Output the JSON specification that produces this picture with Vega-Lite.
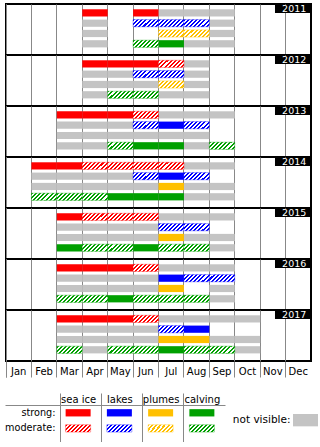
{
"$schema": "https://vega.github.io/schema/vega-lite/v6.json",
"padding": {"left": 4, "top": 2, "right": 0, "bottom": 0},
"background": "white",
"config": {
  "font": "DejaVu Sans",
  "view": {"stroke": "black", "strokeWidth": 2},
  "axis": {"labelColor": "black", "labelFontSize": 10},
  "axisX": {"bandPosition": 0, "tickExtra": true, "grid": true, "gridColor": "#888888", "gridWidth": 1, "tickColor": "#888888", "tickSize": 16, "domain": false, "labelAngle": 0, "labelPadding": -11, "zindex": 1}
},
"spacing": 14,
"vconcat": [
{
  "data": {"values": [
    {"year":"2011","cat":"sea ice","mon":"Apr","st":"s"},{"year":"2011","cat":"sea ice","mon":"Jun","st":"s"},{"year":"2011","cat":"sea ice","mon":"Jul","st":"n"},{"year":"2011","cat":"sea ice","mon":"Aug","st":"n"},{"year":"2011","cat":"sea ice","mon":"Sep","st":"n"},
    {"year":"2011","cat":"lakes","mon":"Apr","st":"n"},{"year":"2011","cat":"lakes","mon":"Jun","st":"m"},{"year":"2011","cat":"lakes","mon":"Jul","st":"m"},{"year":"2011","cat":"lakes","mon":"Aug","st":"m"},{"year":"2011","cat":"lakes","mon":"Sep","st":"n"},
    {"year":"2011","cat":"plumes","mon":"Apr","st":"n"},{"year":"2011","cat":"plumes","mon":"Jul","st":"m"},{"year":"2011","cat":"plumes","mon":"Aug","st":"m"},{"year":"2011","cat":"plumes","mon":"Sep","st":"n"},
    {"year":"2011","cat":"calving","mon":"Apr","st":"n"},{"year":"2011","cat":"calving","mon":"Jun","st":"m"},{"year":"2011","cat":"calving","mon":"Jul","st":"s"},{"year":"2011","cat":"calving","mon":"Aug","st":"n"},{"year":"2011","cat":"calving","mon":"Sep","st":"n"},

    {"year":"2012","cat":"sea ice","mon":"Apr","st":"s"},{"year":"2012","cat":"sea ice","mon":"May","st":"s"},{"year":"2012","cat":"sea ice","mon":"Jun","st":"s"},{"year":"2012","cat":"sea ice","mon":"Jul","st":"m"},{"year":"2012","cat":"sea ice","mon":"Aug","st":"n"},
    {"year":"2012","cat":"lakes","mon":"Apr","st":"n"},{"year":"2012","cat":"lakes","mon":"May","st":"n"},{"year":"2012","cat":"lakes","mon":"Jun","st":"m"},{"year":"2012","cat":"lakes","mon":"Jul","st":"m"},{"year":"2012","cat":"lakes","mon":"Aug","st":"n"},
    {"year":"2012","cat":"plumes","mon":"Apr","st":"n"},{"year":"2012","cat":"plumes","mon":"May","st":"n"},{"year":"2012","cat":"plumes","mon":"Jun","st":"n"},{"year":"2012","cat":"plumes","mon":"Jul","st":"m"},{"year":"2012","cat":"plumes","mon":"Aug","st":"n"},
    {"year":"2012","cat":"calving","mon":"Apr","st":"n"},{"year":"2012","cat":"calving","mon":"May","st":"m"},{"year":"2012","cat":"calving","mon":"Jun","st":"m"},{"year":"2012","cat":"calving","mon":"Jul","st":"n"},{"year":"2012","cat":"calving","mon":"Aug","st":"n"},

    {"year":"2013","cat":"sea ice","mon":"Mar","st":"s"},{"year":"2013","cat":"sea ice","mon":"Apr","st":"s"},{"year":"2013","cat":"sea ice","mon":"May","st":"s"},{"year":"2013","cat":"sea ice","mon":"Jun","st":"m"},{"year":"2013","cat":"sea ice","mon":"Jul","st":"n"},{"year":"2013","cat":"sea ice","mon":"Aug","st":"n"},{"year":"2013","cat":"sea ice","mon":"Sep","st":"n"},
    {"year":"2013","cat":"lakes","mon":"Mar","st":"n"},{"year":"2013","cat":"lakes","mon":"Apr","st":"n"},{"year":"2013","cat":"lakes","mon":"May","st":"n"},{"year":"2013","cat":"lakes","mon":"Jun","st":"m"},{"year":"2013","cat":"lakes","mon":"Jul","st":"s"},{"year":"2013","cat":"lakes","mon":"Aug","st":"m"},
    {"year":"2013","cat":"plumes","mon":"Mar","st":"n"},{"year":"2013","cat":"plumes","mon":"Apr","st":"n"},{"year":"2013","cat":"plumes","mon":"May","st":"n"},{"year":"2013","cat":"plumes","mon":"Jun","st":"n"},{"year":"2013","cat":"plumes","mon":"Jul","st":"n"},{"year":"2013","cat":"plumes","mon":"Aug","st":"n"},
    {"year":"2013","cat":"calving","mon":"Mar","st":"n"},{"year":"2013","cat":"calving","mon":"Apr","st":"n"},{"year":"2013","cat":"calving","mon":"May","st":"m"},{"year":"2013","cat":"calving","mon":"Jun","st":"s"},{"year":"2013","cat":"calving","mon":"Jul","st":"s"},{"year":"2013","cat":"calving","mon":"Aug","st":"n"},{"year":"2013","cat":"calving","mon":"Sep","st":"m"},

    {"year":"2014","cat":"sea ice","mon":"Feb","st":"s"},{"year":"2014","cat":"sea ice","mon":"Mar","st":"s"},{"year":"2014","cat":"sea ice","mon":"Apr","st":"m"},{"year":"2014","cat":"sea ice","mon":"May","st":"m"},{"year":"2014","cat":"sea ice","mon":"Jun","st":"m"},{"year":"2014","cat":"sea ice","mon":"Jul","st":"m"},{"year":"2014","cat":"sea ice","mon":"Aug","st":"n"},{"year":"2014","cat":"sea ice","mon":"Sep","st":"n"},
    {"year":"2014","cat":"lakes","mon":"Feb","st":"n"},{"year":"2014","cat":"lakes","mon":"Mar","st":"n"},{"year":"2014","cat":"lakes","mon":"Apr","st":"n"},{"year":"2014","cat":"lakes","mon":"May","st":"n"},{"year":"2014","cat":"lakes","mon":"Jun","st":"m"},{"year":"2014","cat":"lakes","mon":"Jul","st":"s"},{"year":"2014","cat":"lakes","mon":"Aug","st":"m"},
    {"year":"2014","cat":"plumes","mon":"Feb","st":"n"},{"year":"2014","cat":"plumes","mon":"Mar","st":"n"},{"year":"2014","cat":"plumes","mon":"Apr","st":"n"},{"year":"2014","cat":"plumes","mon":"May","st":"n"},{"year":"2014","cat":"plumes","mon":"Jun","st":"n"},{"year":"2014","cat":"plumes","mon":"Jul","st":"s"},{"year":"2014","cat":"plumes","mon":"Aug","st":"n"},{"year":"2014","cat":"plumes","mon":"Sep","st":"n"},
    {"year":"2014","cat":"calving","mon":"Feb","st":"m"},{"year":"2014","cat":"calving","mon":"Mar","st":"m"},{"year":"2014","cat":"calving","mon":"Apr","st":"m"},{"year":"2014","cat":"calving","mon":"May","st":"s"},{"year":"2014","cat":"calving","mon":"Jun","st":"s"},{"year":"2014","cat":"calving","mon":"Jul","st":"s"},{"year":"2014","cat":"calving","mon":"Aug","st":"n"},{"year":"2014","cat":"calving","mon":"Sep","st":"n"},

    {"year":"2015","cat":"sea ice","mon":"Mar","st":"s"},{"year":"2015","cat":"sea ice","mon":"Apr","st":"m"},{"year":"2015","cat":"sea ice","mon":"May","st":"m"},{"year":"2015","cat":"sea ice","mon":"Jun","st":"m"},{"year":"2015","cat":"sea ice","mon":"Jul","st":"n"},{"year":"2015","cat":"sea ice","mon":"Aug","st":"n"},{"year":"2015","cat":"sea ice","mon":"Sep","st":"n"},
    {"year":"2015","cat":"lakes","mon":"Mar","st":"n"},{"year":"2015","cat":"lakes","mon":"Apr","st":"n"},{"year":"2015","cat":"lakes","mon":"May","st":"n"},{"year":"2015","cat":"lakes","mon":"Jun","st":"n"},{"year":"2015","cat":"lakes","mon":"Jul","st":"m"},{"year":"2015","cat":"lakes","mon":"Aug","st":"m"},
    {"year":"2015","cat":"plumes","mon":"Mar","st":"n"},{"year":"2015","cat":"plumes","mon":"Apr","st":"n"},{"year":"2015","cat":"plumes","mon":"May","st":"n"},{"year":"2015","cat":"plumes","mon":"Jun","st":"n"},{"year":"2015","cat":"plumes","mon":"Jul","st":"s"},{"year":"2015","cat":"plumes","mon":"Aug","st":"n"},{"year":"2015","cat":"plumes","mon":"Sep","st":"n"},
    {"year":"2015","cat":"calving","mon":"Mar","st":"s"},{"year":"2015","cat":"calving","mon":"Apr","st":"m"},{"year":"2015","cat":"calving","mon":"May","st":"m"},{"year":"2015","cat":"calving","mon":"Jun","st":"s"},{"year":"2015","cat":"calving","mon":"Jul","st":"m"},{"year":"2015","cat":"calving","mon":"Aug","st":"m"},{"year":"2015","cat":"calving","mon":"Sep","st":"n"},

    {"year":"2016","cat":"sea ice","mon":"Mar","st":"s"},{"year":"2016","cat":"sea ice","mon":"Apr","st":"s"},{"year":"2016","cat":"sea ice","mon":"May","st":"s"},{"year":"2016","cat":"sea ice","mon":"Jun","st":"m"},{"year":"2016","cat":"sea ice","mon":"Jul","st":"n"},{"year":"2016","cat":"sea ice","mon":"Aug","st":"n"},{"year":"2016","cat":"sea ice","mon":"Sep","st":"n"},
    {"year":"2016","cat":"lakes","mon":"Mar","st":"n"},{"year":"2016","cat":"lakes","mon":"Apr","st":"n"},{"year":"2016","cat":"lakes","mon":"May","st":"n"},{"year":"2016","cat":"lakes","mon":"Jun","st":"n"},{"year":"2016","cat":"lakes","mon":"Jul","st":"s"},{"year":"2016","cat":"lakes","mon":"Aug","st":"m"},{"year":"2016","cat":"lakes","mon":"Sep","st":"m"},
    {"year":"2016","cat":"plumes","mon":"Mar","st":"n"},{"year":"2016","cat":"plumes","mon":"Apr","st":"n"},{"year":"2016","cat":"plumes","mon":"May","st":"n"},{"year":"2016","cat":"plumes","mon":"Jun","st":"n"},{"year":"2016","cat":"plumes","mon":"Jul","st":"s"},{"year":"2016","cat":"plumes","mon":"Sep","st":"n"},
    {"year":"2016","cat":"calving","mon":"Mar","st":"m"},{"year":"2016","cat":"calving","mon":"Apr","st":"m"},{"year":"2016","cat":"calving","mon":"May","st":"s"},{"year":"2016","cat":"calving","mon":"Jun","st":"m"},{"year":"2016","cat":"calving","mon":"Jul","st":"m"},{"year":"2016","cat":"calving","mon":"Aug","st":"m"},{"year":"2016","cat":"calving","mon":"Sep","st":"n"},

    {"year":"2017","cat":"sea ice","mon":"Mar","st":"s"},{"year":"2017","cat":"sea ice","mon":"Apr","st":"s"},{"year":"2017","cat":"sea ice","mon":"May","st":"s"},{"year":"2017","cat":"sea ice","mon":"Jun","st":"m"},{"year":"2017","cat":"sea ice","mon":"Jul","st":"n"},{"year":"2017","cat":"sea ice","mon":"Aug","st":"n"},{"year":"2017","cat":"sea ice","mon":"Sep","st":"n"},{"year":"2017","cat":"sea ice","mon":"Oct","st":"n"},
    {"year":"2017","cat":"lakes","mon":"Mar","st":"n"},{"year":"2017","cat":"lakes","mon":"Apr","st":"n"},{"year":"2017","cat":"lakes","mon":"May","st":"n"},{"year":"2017","cat":"lakes","mon":"Jun","st":"n"},{"year":"2017","cat":"lakes","mon":"Jul","st":"m"},{"year":"2017","cat":"lakes","mon":"Aug","st":"s"},
    {"year":"2017","cat":"plumes","mon":"Mar","st":"n"},{"year":"2017","cat":"plumes","mon":"Apr","st":"n"},{"year":"2017","cat":"plumes","mon":"May","st":"n"},{"year":"2017","cat":"plumes","mon":"Jun","st":"n"},{"year":"2017","cat":"plumes","mon":"Jul","st":"s"},{"year":"2017","cat":"plumes","mon":"Aug","st":"s"},{"year":"2017","cat":"plumes","mon":"Sep","st":"n"},{"year":"2017","cat":"plumes","mon":"Oct","st":"n"},
    {"year":"2017","cat":"calving","mon":"Mar","st":"m"},{"year":"2017","cat":"calving","mon":"Apr","st":"n"},{"year":"2017","cat":"calving","mon":"May","st":"m"},{"year":"2017","cat":"calving","mon":"Jun","st":"m"},{"year":"2017","cat":"calving","mon":"Jul","st":"s"},{"year":"2017","cat":"calving","mon":"Aug","st":"m"},{"year":"2017","cat":"calving","mon":"Sep","st":"m"},{"year":"2017","cat":"calving","mon":"Oct","st":"n"}
  ]},
  "facet": {"row": {"field": "year", "type": "ordinal", "header": {"title": null, "labels": false}}},
  "spacing": {"row": 0},
  "bounds": "flush",
  "spec": {
    "width": 305,
    "height": 51,
    "encoding": {
      "x": {"field": "mon", "type": "ordinal", "title": null, "scale": {"domain": ["Jan","Feb","Mar","Apr","May","Jun","Jul","Aug","Sep","Oct","Nov","Dec"], "paddingInner": 0, "paddingOuter": 0}},
      "y": {"field": "cat", "type": "nominal", "axis": null, "scale": {"domain": ["sea ice","lakes","plumes","calving"], "paddingInner": 0.3, "paddingOuter": 0.626, "align": 0.41}}
    },
    "layer": [
      {"transform": [{"filter": "datum.st === 'n'"}], "mark": {"type": "rect", "fill": "#c4c4c4"}},
      {"transform": [{"filter": "datum.st === 's'"}], "mark": {"type": "rect"},
       "encoding": {"color": {"field": "cat", "type": "nominal", "legend": null, "scale": {"domain": ["sea ice","lakes","plumes","calving"], "range": ["#ff0000","#0000ff","#ffc000","#00a000"]}}}},
      {"transform": [{"filter": "datum.st === 'm' && datum.cat === 'sea ice'"}],
       "mark": {"type": "rect", "stroke": "#ff0000", "strokeOpacity": 0.35, "strokeWidth": 1, "fill": {"gradient": "linear", "x1": 0, "y1": 0, "x2": 1.19, "y2": 0.34, "stops": [
        {"offset":0,"color":"#ff0000"},{"offset":0.0625,"color":"#ff0000"},{"offset":0.0625,"color":"white"},{"offset":0.125,"color":"white"},
        {"offset":0.125,"color":"#ff0000"},{"offset":0.1875,"color":"#ff0000"},{"offset":0.1875,"color":"white"},{"offset":0.25,"color":"white"},
        {"offset":0.25,"color":"#ff0000"},{"offset":0.3125,"color":"#ff0000"},{"offset":0.3125,"color":"white"},{"offset":0.375,"color":"white"},
        {"offset":0.375,"color":"#ff0000"},{"offset":0.4375,"color":"#ff0000"},{"offset":0.4375,"color":"white"},{"offset":0.5,"color":"white"},
        {"offset":0.5,"color":"#ff0000"},{"offset":0.5625,"color":"#ff0000"},{"offset":0.5625,"color":"white"},{"offset":0.625,"color":"white"},
        {"offset":0.625,"color":"#ff0000"},{"offset":0.6875,"color":"#ff0000"},{"offset":0.6875,"color":"white"},{"offset":0.75,"color":"white"},
        {"offset":0.75,"color":"#ff0000"},{"offset":0.8125,"color":"#ff0000"},{"offset":0.8125,"color":"white"},{"offset":0.875,"color":"white"},
        {"offset":0.875,"color":"#ff0000"},{"offset":0.9375,"color":"#ff0000"},{"offset":0.9375,"color":"white"},{"offset":1,"color":"white"}]}}},
      {"transform": [{"filter": "datum.st === 'm' && datum.cat === 'lakes'"}],
       "mark": {"type": "rect", "stroke": "#0000ff", "strokeOpacity": 0.35, "strokeWidth": 1, "fill": {"gradient": "linear", "x1": 0, "y1": 0, "x2": 1.19, "y2": 0.34, "stops": [
        {"offset":0,"color":"#0000ff"},{"offset":0.0625,"color":"#0000ff"},{"offset":0.0625,"color":"white"},{"offset":0.125,"color":"white"},
        {"offset":0.125,"color":"#0000ff"},{"offset":0.1875,"color":"#0000ff"},{"offset":0.1875,"color":"white"},{"offset":0.25,"color":"white"},
        {"offset":0.25,"color":"#0000ff"},{"offset":0.3125,"color":"#0000ff"},{"offset":0.3125,"color":"white"},{"offset":0.375,"color":"white"},
        {"offset":0.375,"color":"#0000ff"},{"offset":0.4375,"color":"#0000ff"},{"offset":0.4375,"color":"white"},{"offset":0.5,"color":"white"},
        {"offset":0.5,"color":"#0000ff"},{"offset":0.5625,"color":"#0000ff"},{"offset":0.5625,"color":"white"},{"offset":0.625,"color":"white"},
        {"offset":0.625,"color":"#0000ff"},{"offset":0.6875,"color":"#0000ff"},{"offset":0.6875,"color":"white"},{"offset":0.75,"color":"white"},
        {"offset":0.75,"color":"#0000ff"},{"offset":0.8125,"color":"#0000ff"},{"offset":0.8125,"color":"white"},{"offset":0.875,"color":"white"},
        {"offset":0.875,"color":"#0000ff"},{"offset":0.9375,"color":"#0000ff"},{"offset":0.9375,"color":"white"},{"offset":1,"color":"white"}]}}},
      {"transform": [{"filter": "datum.st === 'm' && datum.cat === 'plumes'"}],
       "mark": {"type": "rect", "stroke": "#ffc000", "strokeOpacity": 0.35, "strokeWidth": 1, "fill": {"gradient": "linear", "x1": 0, "y1": 0, "x2": 1.19, "y2": 0.34, "stops": [
        {"offset":0,"color":"#ffc000"},{"offset":0.0625,"color":"#ffc000"},{"offset":0.0625,"color":"white"},{"offset":0.125,"color":"white"},
        {"offset":0.125,"color":"#ffc000"},{"offset":0.1875,"color":"#ffc000"},{"offset":0.1875,"color":"white"},{"offset":0.25,"color":"white"},
        {"offset":0.25,"color":"#ffc000"},{"offset":0.3125,"color":"#ffc000"},{"offset":0.3125,"color":"white"},{"offset":0.375,"color":"white"},
        {"offset":0.375,"color":"#ffc000"},{"offset":0.4375,"color":"#ffc000"},{"offset":0.4375,"color":"white"},{"offset":0.5,"color":"white"},
        {"offset":0.5,"color":"#ffc000"},{"offset":0.5625,"color":"#ffc000"},{"offset":0.5625,"color":"white"},{"offset":0.625,"color":"white"},
        {"offset":0.625,"color":"#ffc000"},{"offset":0.6875,"color":"#ffc000"},{"offset":0.6875,"color":"white"},{"offset":0.75,"color":"white"},
        {"offset":0.75,"color":"#ffc000"},{"offset":0.8125,"color":"#ffc000"},{"offset":0.8125,"color":"white"},{"offset":0.875,"color":"white"},
        {"offset":0.875,"color":"#ffc000"},{"offset":0.9375,"color":"#ffc000"},{"offset":0.9375,"color":"white"},{"offset":1,"color":"white"}]}}},
      {"transform": [{"filter": "datum.st === 'm' && datum.cat === 'calving'"}],
       "mark": {"type": "rect", "stroke": "#00a000", "strokeOpacity": 0.35, "strokeWidth": 1, "fill": {"gradient": "linear", "x1": 0, "y1": 0, "x2": 1.19, "y2": 0.34, "stops": [
        {"offset":0,"color":"#00a000"},{"offset":0.0625,"color":"#00a000"},{"offset":0.0625,"color":"white"},{"offset":0.125,"color":"white"},
        {"offset":0.125,"color":"#00a000"},{"offset":0.1875,"color":"#00a000"},{"offset":0.1875,"color":"white"},{"offset":0.25,"color":"white"},
        {"offset":0.25,"color":"#00a000"},{"offset":0.3125,"color":"#00a000"},{"offset":0.3125,"color":"white"},{"offset":0.375,"color":"white"},
        {"offset":0.375,"color":"#00a000"},{"offset":0.4375,"color":"#00a000"},{"offset":0.4375,"color":"white"},{"offset":0.5,"color":"white"},
        {"offset":0.5,"color":"#00a000"},{"offset":0.5625,"color":"#00a000"},{"offset":0.5625,"color":"white"},{"offset":0.625,"color":"white"},
        {"offset":0.625,"color":"#00a000"},{"offset":0.6875,"color":"#00a000"},{"offset":0.6875,"color":"white"},{"offset":0.75,"color":"white"},
        {"offset":0.75,"color":"#00a000"},{"offset":0.8125,"color":"#00a000"},{"offset":0.8125,"color":"white"},{"offset":0.875,"color":"white"},
        {"offset":0.875,"color":"#00a000"},{"offset":0.9375,"color":"#00a000"},{"offset":0.9375,"color":"white"},{"offset":1,"color":"white"}]}}},
      {"transform": [{"aggregate": [{"op": "count", "as": "n"}], "groupby": ["year"]}],
       "mark": {"type": "rect", "fill": "black", "width": 36, "height": 8, "xOffset": -5.3, "yOffset": -3.9},
       "encoding": {"x": {"datum": "Dec", "type": "ordinal", "title": null}, "y": {"datum": "sea ice", "type": "nominal", "axis": null}}},
      {"transform": [{"aggregate": [{"op": "count", "as": "n"}], "groupby": ["year"]}],
       "mark": {"type": "text", "color": "white", "fontSize": 9.5, "xOffset": -4.1, "yOffset": -3.9, "baseline": "middle", "align": "center"},
       "encoding": {"x": {"datum": "Dec", "type": "ordinal", "title": null}, "y": {"datum": "sea ice", "type": "nominal", "axis": null}, "text": {"field": "year", "type": "nominal"}}}
    ]
  }
},
{
  "spacing": 0,
  "bounds": "flush",
  "hconcat": [
    {
      "width": 54,
      "height": 37,
      "view": {"stroke": null},
      "data": {"values": [{"k": "spacer"}]},
      "mark": {"type": "text", "text": ""}
    },
    {
      "width": 165,
      "height": 37,
      "view": {"stroke": null},
      "data": {"values": [
        {"cat":"sea ice","lev":"strong"},{"cat":"lakes","lev":"strong"},{"cat":"plumes","lev":"strong"},{"cat":"calving","lev":"strong"},
        {"cat":"sea ice","lev":"moderate"},{"cat":"lakes","lev":"moderate"},{"cat":"plumes","lev":"moderate"},{"cat":"calving","lev":"moderate"}
      ]},
      "encoding": {
        "x": {"field": "cat", "type": "nominal", "title": null, "scale": {"domain": ["sea ice","lakes","plumes","calving"], "paddingInner": 0, "paddingOuter": 0},
              "axis": {"orient": "top", "tickExtra": false, "tickSize": 12, "labelPadding": -9.5, "labelBaseline": "alphabetic", "domain": true, "domainColor": "#888888", "labelOffset": -2}},
        "y": {"field": "lev", "type": "nominal", "title": null, "scale": {"domain": ["strong","moderate"], "paddingInner": 0, "paddingOuter": 0.186, "align": 0},
              "axis": {"bandPosition": 0, "domain": false, "grid": false, "tickSize": 55, "tickColor": "#888888",
                       "tickOpacity": {"condition": {"test": "datum.value === 'strong'", "value": 1}, "value": 0},
                       "labelPadding": -50, "labelFontSize": 9.7, "labelExpr": "datum.label + ':'"}}
      },
      "layer": [
        {"transform": [{"filter": "datum.lev === 'strong'"}],
         "mark": {"type": "rect", "width": 25, "height": 7.3, "xOffset": -2.5},
         "encoding": {"color": {"field": "cat", "type": "nominal", "legend": null, "scale": {"domain": ["sea ice","lakes","plumes","calving"], "range": ["#ff0000","#0000ff","#ffc000","#00a000"]}}}},
        {"transform": [{"filter": "datum.lev === 'moderate' && datum.cat === 'sea ice'"}],
         "mark": {"type": "rect", "width": 25, "height": 7.3, "xOffset": -2.5, "stroke": "#ff0000", "strokeOpacity": 0.35, "strokeWidth": 1, "fill": {"gradient": "linear", "x1": 0, "y1": 0, "x2": 1.19, "y2": 0.34, "stops": [
          {"offset":0,"color":"#ff0000"},{"offset":0.0625,"color":"#ff0000"},{"offset":0.0625,"color":"white"},{"offset":0.125,"color":"white"},
          {"offset":0.125,"color":"#ff0000"},{"offset":0.1875,"color":"#ff0000"},{"offset":0.1875,"color":"white"},{"offset":0.25,"color":"white"},
          {"offset":0.25,"color":"#ff0000"},{"offset":0.3125,"color":"#ff0000"},{"offset":0.3125,"color":"white"},{"offset":0.375,"color":"white"},
          {"offset":0.375,"color":"#ff0000"},{"offset":0.4375,"color":"#ff0000"},{"offset":0.4375,"color":"white"},{"offset":0.5,"color":"white"},
          {"offset":0.5,"color":"#ff0000"},{"offset":0.5625,"color":"#ff0000"},{"offset":0.5625,"color":"white"},{"offset":0.625,"color":"white"},
          {"offset":0.625,"color":"#ff0000"},{"offset":0.6875,"color":"#ff0000"},{"offset":0.6875,"color":"white"},{"offset":0.75,"color":"white"},
          {"offset":0.75,"color":"#ff0000"},{"offset":0.8125,"color":"#ff0000"},{"offset":0.8125,"color":"white"},{"offset":0.875,"color":"white"},
          {"offset":0.875,"color":"#ff0000"},{"offset":0.9375,"color":"#ff0000"},{"offset":0.9375,"color":"white"},{"offset":1,"color":"white"}]}}},
        {"transform": [{"filter": "datum.lev === 'moderate' && datum.cat === 'lakes'"}],
         "mark": {"type": "rect", "width": 25, "height": 7.3, "xOffset": -2.5, "stroke": "#0000ff", "strokeOpacity": 0.35, "strokeWidth": 1, "fill": {"gradient": "linear", "x1": 0, "y1": 0, "x2": 1.19, "y2": 0.34, "stops": [
          {"offset":0,"color":"#0000ff"},{"offset":0.0625,"color":"#0000ff"},{"offset":0.0625,"color":"white"},{"offset":0.125,"color":"white"},
          {"offset":0.125,"color":"#0000ff"},{"offset":0.1875,"color":"#0000ff"},{"offset":0.1875,"color":"white"},{"offset":0.25,"color":"white"},
          {"offset":0.25,"color":"#0000ff"},{"offset":0.3125,"color":"#0000ff"},{"offset":0.3125,"color":"white"},{"offset":0.375,"color":"white"},
          {"offset":0.375,"color":"#0000ff"},{"offset":0.4375,"color":"#0000ff"},{"offset":0.4375,"color":"white"},{"offset":0.5,"color":"white"},
          {"offset":0.5,"color":"#0000ff"},{"offset":0.5625,"color":"#0000ff"},{"offset":0.5625,"color":"white"},{"offset":0.625,"color":"white"},
          {"offset":0.625,"color":"#0000ff"},{"offset":0.6875,"color":"#0000ff"},{"offset":0.6875,"color":"white"},{"offset":0.75,"color":"white"},
          {"offset":0.75,"color":"#0000ff"},{"offset":0.8125,"color":"#0000ff"},{"offset":0.8125,"color":"white"},{"offset":0.875,"color":"white"},
          {"offset":0.875,"color":"#0000ff"},{"offset":0.9375,"color":"#0000ff"},{"offset":0.9375,"color":"white"},{"offset":1,"color":"white"}]}}},
        {"transform": [{"filter": "datum.lev === 'moderate' && datum.cat === 'plumes'"}],
         "mark": {"type": "rect", "width": 25, "height": 7.3, "xOffset": -2.5, "stroke": "#ffc000", "strokeOpacity": 0.35, "strokeWidth": 1, "fill": {"gradient": "linear", "x1": 0, "y1": 0, "x2": 1.19, "y2": 0.34, "stops": [
          {"offset":0,"color":"#ffc000"},{"offset":0.0625,"color":"#ffc000"},{"offset":0.0625,"color":"white"},{"offset":0.125,"color":"white"},
          {"offset":0.125,"color":"#ffc000"},{"offset":0.1875,"color":"#ffc000"},{"offset":0.1875,"color":"white"},{"offset":0.25,"color":"white"},
          {"offset":0.25,"color":"#ffc000"},{"offset":0.3125,"color":"#ffc000"},{"offset":0.3125,"color":"white"},{"offset":0.375,"color":"white"},
          {"offset":0.375,"color":"#ffc000"},{"offset":0.4375,"color":"#ffc000"},{"offset":0.4375,"color":"white"},{"offset":0.5,"color":"white"},
          {"offset":0.5,"color":"#ffc000"},{"offset":0.5625,"color":"#ffc000"},{"offset":0.5625,"color":"white"},{"offset":0.625,"color":"white"},
          {"offset":0.625,"color":"#ffc000"},{"offset":0.6875,"color":"#ffc000"},{"offset":0.6875,"color":"white"},{"offset":0.75,"color":"white"},
          {"offset":0.75,"color":"#ffc000"},{"offset":0.8125,"color":"#ffc000"},{"offset":0.8125,"color":"white"},{"offset":0.875,"color":"white"},
          {"offset":0.875,"color":"#ffc000"},{"offset":0.9375,"color":"#ffc000"},{"offset":0.9375,"color":"white"},{"offset":1,"color":"white"}]}}},
        {"transform": [{"filter": "datum.lev === 'moderate' && datum.cat === 'calving'"}],
         "mark": {"type": "rect", "width": 25, "height": 7.3, "xOffset": -2.5, "stroke": "#00a000", "strokeOpacity": 0.35, "strokeWidth": 1, "fill": {"gradient": "linear", "x1": 0, "y1": 0, "x2": 1.19, "y2": 0.34, "stops": [
          {"offset":0,"color":"#00a000"},{"offset":0.0625,"color":"#00a000"},{"offset":0.0625,"color":"white"},{"offset":0.125,"color":"white"},
          {"offset":0.125,"color":"#00a000"},{"offset":0.1875,"color":"#00a000"},{"offset":0.1875,"color":"white"},{"offset":0.25,"color":"white"},
          {"offset":0.25,"color":"#00a000"},{"offset":0.3125,"color":"#00a000"},{"offset":0.3125,"color":"white"},{"offset":0.375,"color":"white"},
          {"offset":0.375,"color":"#00a000"},{"offset":0.4375,"color":"#00a000"},{"offset":0.4375,"color":"white"},{"offset":0.5,"color":"white"},
          {"offset":0.5,"color":"#00a000"},{"offset":0.5625,"color":"#00a000"},{"offset":0.5625,"color":"white"},{"offset":0.625,"color":"white"},
          {"offset":0.625,"color":"#00a000"},{"offset":0.6875,"color":"#00a000"},{"offset":0.6875,"color":"white"},{"offset":0.75,"color":"white"},
          {"offset":0.75,"color":"#00a000"},{"offset":0.8125,"color":"#00a000"},{"offset":0.8125,"color":"white"},{"offset":0.875,"color":"white"},
          {"offset":0.875,"color":"#00a000"},{"offset":0.9375,"color":"#00a000"},{"offset":0.9375,"color":"white"},{"offset":1,"color":"white"}]}}}
      ]
    },
    {
      "width": 68,
      "height": 37,
      "view": {"stroke": null},
      "data": {"values": [{"k": "spacer"}]},
      "mark": {"type": "text", "text": ""}
    },
    {
      "width": 25,
      "height": 37,
      "view": {"stroke": null},
      "data": {"values": [{"k": "not visible"}]},
      "mark": {"type": "rect", "fill": "#c4c4c4"},
      "encoding": {
        "x": {"field": "k", "type": "nominal", "axis": null, "scale": {"paddingInner": 0, "paddingOuter": 0}},
        "y": {"field": "k", "type": "nominal", "title": null, "scale": {"paddingInner": 0, "paddingOuter": 2, "align": 0.365},
              "axis": {"ticks": false, "domain": false, "labelPadding": 3, "labelFontSize": 10.5, "labelExpr": "datum.label + ':'"}}
      }
    }
  ]
}
]
}
